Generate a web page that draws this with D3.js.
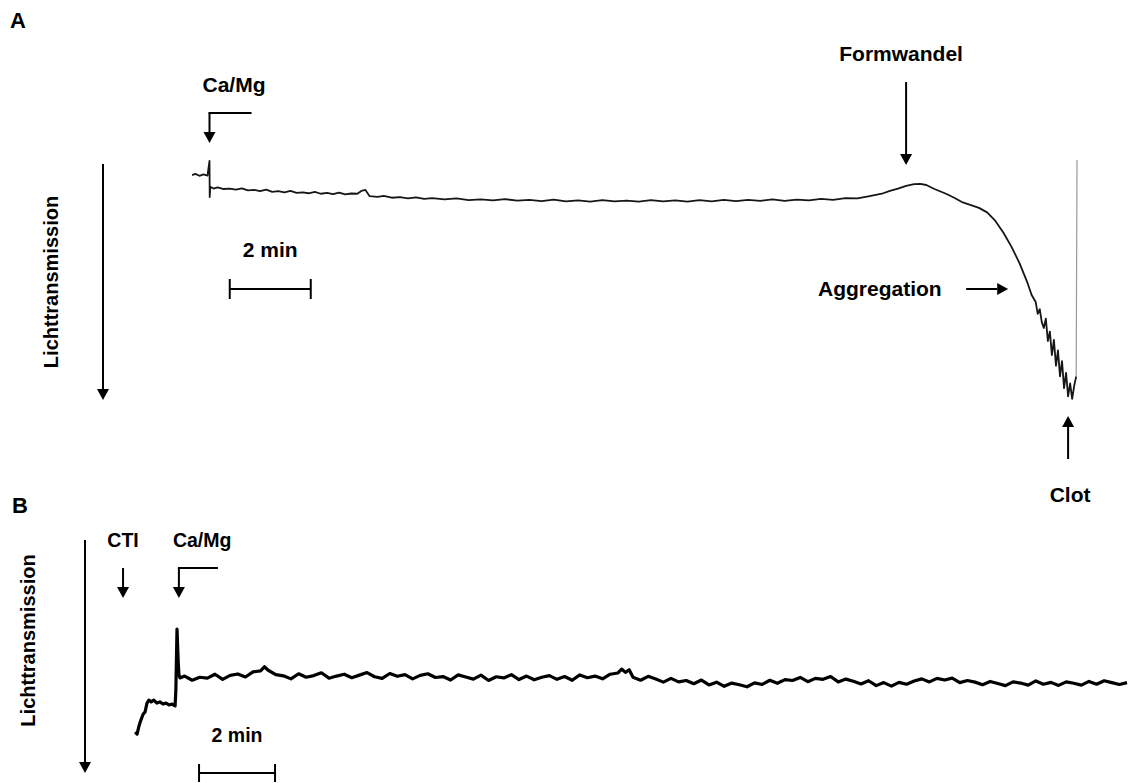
<!DOCTYPE html>
<html>
<head>
<meta charset="utf-8">
<script src="https://cdn.jsdelivr.net/npm/d3@7"></script>
<style>
  body { margin: 0; background: #fff; }
  text { font-family: "Liberation Sans", Arial, sans-serif; font-weight: bold; fill: #000; }
</style>
</head>
<body>
<div id="chart"></div>
<script>
// Aggregometer traces: time in min after Ca/Mg, light transmission in % (grows downward)

// Panel A: trace with shape change, aggregation and clot
const traceA = [
  [-0.43, 4.7], [-0.35, 4.2], [-0.25, 5.0], [-0.15, 4.4], [-0.05, 4.9], [0, -1.3], [0.005, 14.0],
  [0.02, 9.7], [0.1, 10.4], [0.2, 9.9], [0.35, 10.6], [0.5, 10.4], [0.65, 10.9], [0.8, 10.3],
  [0.95, 11.2], [1.1, 11.0], [1.25, 11.5], [1.4, 10.9], [1.55, 11.8], [1.7, 11.5], [1.85, 12.0],
  [2.0, 11.4], [2.15, 12.2], [2.3, 12.0], [2.45, 12.4], [2.6, 11.8], [2.75, 12.6], [2.9, 12.2],
  [3.05, 12.8], [3.2, 12.1], [3.35, 12.9], [3.5, 12.5], [3.65, 12.6], [3.75, 11.4], [3.85, 11.0],
  [3.95, 13.6], [4.15, 13.9], [4.3, 13.5], [4.5, 14.3], [4.7, 14.0], [4.9, 14.6], [5.1, 14.1],
  [5.3, 14.8], [5.5, 14.5], [5.8, 15.0], [6.1, 14.6], [6.4, 15.3], [6.7, 15.0], [7.0, 15.4],
  [7.3, 14.9], [7.6, 15.5], [7.9, 15.2], [8.2, 15.7], [8.5, 15.1], [8.8, 15.8], [9.1, 15.4],
  [9.4, 15.9], [9.7, 15.3], [10.0, 15.8], [10.3, 15.5], [10.6, 15.9], [10.9, 15.3], [11.2, 15.8],
  [11.5, 15.4], [11.8, 15.9], [12.1, 15.3], [12.4, 15.8], [12.7, 15.2], [13.0, 15.7], [13.3, 15.2],
  [13.6, 15.6], [13.9, 15.0], [14.2, 15.6], [14.5, 15.1], [14.8, 15.4], [15.1, 14.8], [15.4, 15.2],
  [15.7, 14.5], [16.0, 14.6], [16.3, 13.6], [16.6, 12.6], [16.8, 11.4], [17.0, 10.4], [17.2, 9.3],
  [17.4, 8.5], [17.55, 8.4], [17.7, 8.9], [17.9, 10.6], [18.2, 12.7], [18.4, 14.4], [18.6, 16.3],
  [18.8, 17.4], [19.0, 18.6], [19.2, 20.5], [19.4, 24.0], [19.6, 29.0], [19.8, 35.0], [20.0, 42.0],
  [20.2, 50.5], [20.3, 55.5], [20.4, 58.5], [20.45, 63.5], [20.5, 61.5], [20.55, 67.0], [20.6, 69.5],
  [20.65, 65.5], [20.7, 75.0], [20.75, 71.0], [20.8, 81.0], [20.85, 74.5], [20.9, 85.5], [20.95, 79.0],
  [21.0, 90.0], [21.05, 83.5], [21.1, 95.0], [21.15, 88.5], [21.2, 98.5], [21.25, 93.0], [21.3, 99.5],
  [21.35, 94.0], [21.4, 90.0]
];
// clot retraction: fast return of the signal
const clotRiseA = [[21.4, 90.0], [21.42, -1.7]];

// Panel B: CTI added first, then Ca/Mg, no aggregation
const traceB = [
  [-1.1, 82.4], [-1.05, 83.3], [-1.0, 79.8], [-0.95, 77.3], [-0.89, 74.7], [-0.84, 73.8], [-0.79, 70.0],
  [-0.74, 68.7], [-0.68, 69.5], [-0.61, 68.7], [-0.53, 70.0], [-0.45, 69.5], [-0.37, 70.4], [-0.29, 70.0],
  [-0.21, 70.8], [-0.13, 70.4], [-0.05, 71.2], [-0.03, 64.4], [0, 38.2], [0.03, 51.5], [0.05, 57.9],
  [0.08, 59.2], [0.2, 58.4], [0.4, 60.2], [0.6, 58.9], [0.8, 59.3], [1.0, 57.6], [1.2, 59.8],
  [1.4, 58.1], [1.6, 57.5], [1.8, 58.8], [2.0, 56.6], [2.2, 56.2], [2.3, 54.4], [2.4, 55.9],
  [2.6, 57.8], [2.8, 58.3], [3.0, 59.6], [3.2, 57.4], [3.4, 58.9], [3.6, 58.2], [3.8, 57.0],
  [4.0, 59.3], [4.2, 58.4], [4.4, 57.6], [4.6, 59.1], [4.8, 58.0], [5.0, 56.9], [5.2, 58.7],
  [5.4, 59.4], [5.6, 57.3], [5.8, 58.5], [6.0, 57.8], [6.2, 59.6], [6.4, 58.1], [6.6, 57.4],
  [6.8, 59.0], [7.0, 58.6], [7.2, 60.1], [7.4, 57.9], [7.6, 58.8], [7.8, 59.7], [8.0, 58.0],
  [8.2, 60.3], [8.4, 58.7], [8.6, 59.2], [8.8, 57.8], [9.0, 59.9], [9.2, 58.4], [9.4, 60.0],
  [9.6, 58.9], [9.8, 58.2], [10.0, 59.8], [10.2, 58.6], [10.4, 60.2], [10.6, 57.9], [10.8, 59.1],
  [11.0, 58.4], [11.2, 59.6], [11.4, 57.6], [11.6, 57.1], [11.7, 55.4], [11.8, 56.8], [11.9, 55.7],
  [12.0, 58.9], [12.2, 60.2], [12.4, 58.5], [12.6, 59.7], [12.8, 61.0], [13.0, 59.4], [13.2, 60.9],
  [13.4, 60.3], [13.6, 61.7], [13.8, 60.1], [14.0, 62.2], [14.2, 61.0], [14.4, 62.8], [14.6, 61.4],
  [14.8, 62.1], [15.0, 63.0], [15.2, 61.3], [15.4, 62.0], [15.6, 60.2], [15.8, 61.5], [16.0, 59.9],
  [16.2, 60.3], [16.4, 59.0], [16.6, 60.8], [16.8, 59.4], [17.0, 59.8], [17.2, 58.6], [17.4, 60.9],
  [17.6, 59.7], [17.8, 60.6], [18.0, 61.8], [18.2, 60.4], [18.4, 62.5], [18.6, 61.2], [18.8, 62.7],
  [19.0, 61.1], [19.2, 61.9], [19.4, 60.5], [19.6, 59.6], [19.8, 60.9], [20.0, 59.4], [20.2, 60.1],
  [20.4, 59.3], [20.6, 61.2], [20.8, 60.3], [21.0, 61.0], [21.2, 62.1], [21.4, 60.7], [21.6, 61.6],
  [21.8, 62.5], [22.0, 60.9], [22.2, 61.4], [22.4, 62.3], [22.6, 60.5], [22.8, 61.9], [23.0, 61.1],
  [23.2, 62.4], [23.4, 60.9], [23.6, 61.5], [23.8, 62.3], [24.0, 60.7], [24.2, 61.9], [24.4, 60.4],
  [24.6, 61.2], [24.8, 62.0], [25.0, 61.2]
];

// event times (min) for the annotations
const eventsA = { caMg: 0, formwandel: 17.2, aggregation: 19.72, clot: 21.2 };
const eventsB = { cti: -1.42, caMg: 0.05 };
const scaleBarA = [0.5, 2.5];   // 2 min
const scaleBarB = [0.58, 2.58]; // 2 min

const width = 1128, height = 783;

const svg = d3.select('#chart').append('svg')
  .attr('width', width)
  .attr('height', height);

// scales
const xA = d3.scaleLinear().domain([0, 20]).range([209.5, 1019.5]);
const yA = d3.scaleLinear().domain([0, 100]).range([164, 400]);
const xB = d3.scaleLinear().domain([0, 20]).range([177, 937]);
const yB = d3.scaleLinear().domain([0, 100]).range([540, 773]);

// arrow helper: line with a filled head at (x1, y1)
function arrow(x0, y0, x1, y1) {
  const len = 11, half = 6;
  const dx = x1 - x0, dy = y1 - y0, d = Math.hypot(dx, dy);
  const ux = dx / d, uy = dy / d;
  const bx = x1 - ux * len, by = y1 - uy * len;
  svg.append('line')
    .attr('x1', x0).attr('y1', y0).attr('x2', bx).attr('y2', by)
    .attr('stroke', '#000').attr('stroke-width', 2);
  svg.append('path')
    .attr('d', `M${x1},${y1}L${bx - uy * half},${by + ux * half}L${bx + uy * half},${by - ux * half}Z`)
    .attr('fill', '#000');
}

function bracketArrow(x, yTop, yTip, xRight) {
  svg.append('line')
    .attr('x1', x - 1).attr('y1', yTop).attr('x2', xRight).attr('y2', yTop)
    .attr('stroke', '#000').attr('stroke-width', 2);
  arrow(x, yTop, x, yTip);
}

function scaleBar(x0, x1, y, tick) {
  svg.append('line').attr('x1', x0).attr('y1', y).attr('x2', x1).attr('y2', y)
    .attr('stroke', '#000').attr('stroke-width', 2);
  [x0, x1].forEach(x => svg.append('line')
    .attr('x1', x).attr('y1', y - tick).attr('x2', x).attr('y2', y + tick)
    .attr('stroke', '#000').attr('stroke-width', 2));
}

function label(txt, x, y, size, anchor) {
  svg.append('text').attr('x', x).attr('y', y)
    .attr('font-size', size).attr('text-anchor', anchor || 'middle').text(txt);
}

// ---------- Panel A ----------
label('A', 10, 28, 22, 'start');

// transmission axis
arrow(103, yA(0), 103, yA(100));
svg.append('text')
  .attr('transform', `translate(58,${(yA(0) + yA(100)) / 2}) rotate(-90)`)
  .attr('font-size', 20).attr('text-anchor', 'middle')
  .text('Lichttransmission');

const lineA = d3.line().x(d => xA(d[0])).y(d => yA(d[1]));
svg.append('path').datum(traceA)
  .attr('d', lineA).attr('fill', 'none')
  .attr('stroke', '#161616').attr('stroke-width', 1.8).attr('stroke-linejoin', 'round');
svg.append('path').datum(clotRiseA)
  .attr('d', lineA).attr('fill', 'none')
  .attr('stroke', '#9a9a9a').attr('stroke-width', 1.2);

// Ca/Mg
label('Ca/Mg', xA(eventsA.caMg) - 7, 92, 21, 'start');
bracketArrow(xA(eventsA.caMg), 113, 143, xA(eventsA.caMg) + 42);

// 2 min
label('2 min', (xA(scaleBarA[0]) + xA(scaleBarA[1])) / 2, 257, 21);
scaleBar(xA(scaleBarA[0]), xA(scaleBarA[1]), 289, 10);

// Formwandel
label('Formwandel', xA(eventsA.formwandel) - 5, 61, 21);
arrow(xA(eventsA.formwandel), 82, xA(eventsA.formwandel), 165);

// Aggregation
label('Aggregation', 818, 296, 21, 'start');
arrow(xA(eventsA.aggregation) - 42, 289, xA(eventsA.aggregation), 289);

// Clot
arrow(xA(eventsA.clot), 459, xA(eventsA.clot), 416);
label('Clot', xA(eventsA.clot) + 2, 502, 21);

// ---------- Panel B ----------
label('B', 12, 513, 22, 'start');

arrow(85, yB(0), 85, yB(100));
svg.append('text')
  .attr('transform', `translate(35,${(yB(0) + yB(100)) / 2 - 16}) rotate(-90)`)
  .attr('font-size', 20).attr('text-anchor', 'middle')
  .text('Lichttransmission');

const lineB = d3.line().x(d => xB(d[0])).y(d => yB(d[1]));
svg.append('path').datum(traceB)
  .attr('d', lineB).attr('fill', 'none')
  .attr('stroke', '#000').attr('stroke-width', 3.2).attr('stroke-linejoin', 'round');

// CTI
label('CTI', xB(eventsB.cti), 547, 19.5);
arrow(xB(eventsB.cti), 568, xB(eventsB.cti), 598);

// Ca/Mg
label('Ca/Mg', xB(eventsB.caMg) - 6, 547, 19.5, 'start');
bracketArrow(xB(eventsB.caMg), 568, 598, xB(eventsB.caMg) + 39);

// 2 min
label('2 min', (xB(scaleBarB[0]) + xB(scaleBarB[1])) / 2, 742, 19.5);
scaleBar(xB(scaleBarB[0]), xB(scaleBarB[1]), 773, 9);
</script>
</body>
</html>
